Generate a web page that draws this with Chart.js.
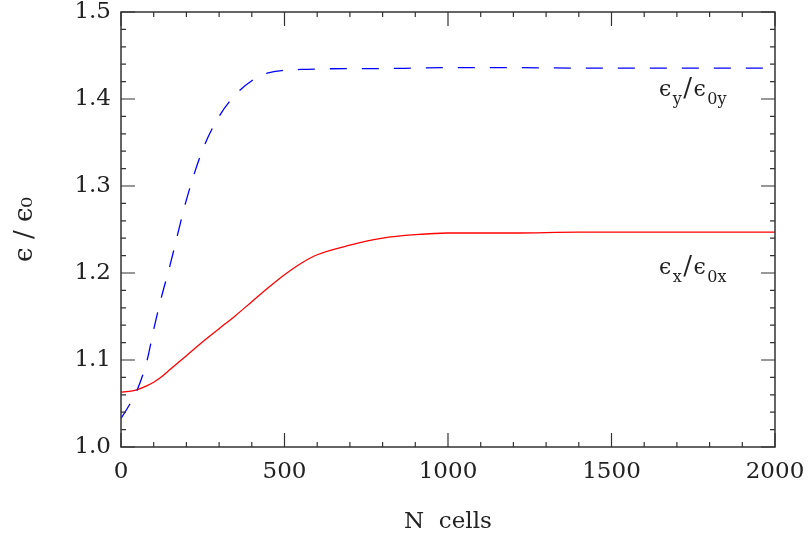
<!DOCTYPE html>
<html>
<head>
<meta charset="utf-8">
<script src="https://cdn.jsdelivr.net/npm/chart.js@4/dist/chart.umd.min.js"></script>
<style>
	html, body { margin: 0; padding: 0; background: #fff; }
	#wrap { width: 808px; height: 544px; }
</style>
</head>
<body>
<div id="wrap"><canvas id="myChart" width="808" height="544"></canvas></div>
<script>
// number of cells along the line
const nCells = [0, 25, 50, 80, 100, 120, 150, 200, 250, 300, 350, 400, 450, 500, 550, 600, 700, 800, 900, 1000, 1200, 1400, 1600, 1800, 2000];
// vertical emittance growth eps_y / eps_0y (dashed blue)
const emitY = [1.033, 1.048, 1.066, 1.100, 1.135, 1.167, 1.209, 1.284, 1.342, 1.380, 1.405, 1.421, 1.430, 1.433, 1.434, 1.4345, 1.435, 1.435, 1.4355, 1.436, 1.436, 1.4355, 1.4355, 1.4355, 1.4355];
// horizontal emittance growth eps_x / eps_0x (solid red)
const emitX = [1.063, 1.064, 1.066, 1.0705, 1.0745, 1.0795, 1.089, 1.105, 1.121, 1.136, 1.151, 1.167, 1.183, 1.198, 1.211, 1.221, 1.232, 1.240, 1.244, 1.246, 1.246, 1.247, 1.247, 1.247, 1.247];
const xTicks = [0, 500, 1000, 1500, 2000];
const yTicks = [1.0, 1.1, 1.2, 1.3, 1.4, 1.5];

const FONT = 'DejaVu Serif';
const INK = '#222';

function toPoints(xs, ys) {
	return xs.map((x, i) => ({ x: x, y: ys[i] }));
}

// frame with inward ticks on all four sides, plus the curve labels
const framePlugin = {
	id: 'frame',
	afterDraw(chart) {
		const ctx = chart.ctx, a = chart.chartArea;
		const sx = chart.scales.x, sy = chart.scales.y;
		ctx.save();
		ctx.strokeStyle = '#333';
		ctx.lineWidth = 1.5;
		ctx.strokeRect(a.left, a.top, a.right - a.left, a.bottom - a.top);
		ctx.lineWidth = 1.2;
		ctx.beginPath();
		for (let v = 0; v <= 2000; v += 100) {
			let px = sx.getPixelForValue(v);
			let len = (v % 500 === 0) ? 14 : 5;
			ctx.moveTo(px, a.bottom); ctx.lineTo(px, a.bottom - len);
			ctx.moveTo(px, a.top); ctx.lineTo(px, a.top + len);
		}
		for (let k = 0; k <= 25; k++) {
			let py = sy.getPixelForValue(1 + k * 0.02);
			let len = (k % 5 === 0) ? 14 : 5;
			ctx.moveTo(a.left, py); ctx.lineTo(a.left + len, py);
			ctx.moveTo(a.right, py); ctx.lineTo(a.right - len, py);
		}
		ctx.stroke();

		// curve labels with subscripts
		function label(x, y, parts) {
			ctx.fillStyle = INK;
			ctx.textBaseline = 'alphabetic';
			ctx.textAlign = 'left';
			parts.forEach(([txt, sub]) => {
				ctx.font = (sub ? '16px ' : (txt === '/' ? '26px ' : '22px ')) + FONT;
				ctx.fillText(txt, x, sub ? y + 8 : y);
				x += ctx.measureText(txt).width + 1.5;
			});
		}
		label(sx.getPixelForValue(1645), sy.getPixelForValue(1.4035),
			[['ϵ', false], ['y', true], ['/', false], ['ϵ', false], ['0y', true]]);
		label(sx.getPixelForValue(1645), sy.getPixelForValue(1.1985),
			[['ϵ', false], ['x', true], ['/', false], ['ϵ', false], ['0x', true]]);
		ctx.restore();
	}
};

const canvas = document.getElementById('myChart').getContext('2d');
const emittanceChart = {
	type: 'line',
	data: {
		datasets: [
			{
				label: 'eps_y / eps_0y',
				data: toPoints(nCells, emitY),
				borderColor: '#0000ff',
				borderWidth: 1.3,
				borderDash: [17, 15],
				pointRadius: 0,
				fill: false,
				cubicInterpolationMode: 'monotone',
			},
			{
				label: 'eps_x / eps_0x',
				data: toPoints(nCells, emitX),
				borderColor: '#ff0000',
				borderWidth: 1.3,
				pointRadius: 0,
				fill: false,
				cubicInterpolationMode: 'monotone',
			},
		],
	},
	options: {
		responsive: false,
		animation: false,
		layout: { padding: { left: 0, top: 12, right: 33, bottom: 0 } },
		plugins: {
			legend: { display: false },
			tooltip: { enabled: false },
		},
		scales: {
			x: {
				type: 'linear',
				min: 0,
				max: 2000,
				afterFit: (scale) => {
					scale.height = 97;
					scale.paddingLeft = 0;
					scale.paddingRight = 0;
				},
				afterBuildTicks: (scale) => { scale.ticks = xTicks.map(v => ({ value: v })); },
				grid: { display: false, drawTicks: false },
				border: { display: false },
				ticks: {
					padding: 11,
					color: INK,
					font: { family: FONT, size: 23 },
					maxRotation: 0,
					callback: function (value) {
						return String(value);
					},
				},
				title: {
					display: true,
					text: 'N  cells',
					color: INK,
					font: { family: FONT, size: 23 },
					padding: { top: 0, bottom: 8 },
				},
			},
			y: {
				min: 1.0,
				max: 1.5,
				afterFit: (scale) => {
					scale.width = 121;
					scale.paddingTop = 0;
					scale.paddingBottom = 0;
				},
				afterBuildTicks: (scale) => { scale.ticks = yTicks.map(v => ({ value: v })); },
				grid: { display: false, drawTicks: false },
				border: { display: false },
				ticks: {
					padding: 10,
					color: INK,
					font: { family: FONT, size: 23 },
					callback: function (value) {
						return Number(value).toFixed(1);
					},
				},
				title: {
					display: true,
					text: 'ϵ / ϵ₀',
					color: INK,
					font: { family: FONT, size: 26 },
					padding: { top: 10, bottom: 0 },
				},
			},
		},
	},
	plugins: [framePlugin],
};
let myChart = new Chart(canvas, emittanceChart);
</script>
</body>
</html>
